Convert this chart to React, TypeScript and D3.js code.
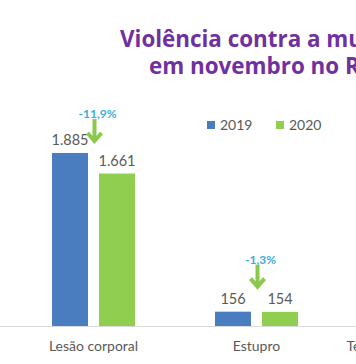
import React from "react";
import * as d3 from "d3";

const categories = ["Lesão corporal", "Estupro", "Tentativa de feminicídio"];
const years = ["2019", "2020"];
const values2019 = [1885, 156];
const values2020 = [1661, 154];
const titleLines = ["Violência contra a mulher", "em novembro no RJ"];

const W = 356;
const H = 364;
const colors = ["#4a7dbf", "#8fce4f"];
const textGray = "#595959";
const pctColor = "#3aaedc";
const arrowColor = "#8cc84b";
const font = "Lato, 'Open Sans', sans-serif";
const titleFont = "'Open Sans', Lato, sans-serif";

export default function App() {
  const baseline = 326;
  const x0 = d3
    .scaleBand<string>()
    .domain(categories)
    .range([12, 12 + 163 * 3])
    .paddingInner(80 / 163)
    .paddingOuter(40 / 163);
  const x1 = d3
    .scaleBand<string>()
    .domain(years)
    .range([0, x0.bandwidth()])
    .paddingInner(11 / 47);
  const y = d3.scaleLinear().domain([0, 2000]).range([baseline, baseline - 183.6]);

  const series = [values2019, values2020];
  const fmt = (v: number) => d3.format(",")(v).replace(/,/g, ".");
  const pctFmt = (v: number) => d3.format(".1%")(v).replace(".", ",").replace("−", "-");
  const tipGap = [11, 24];

  return (
    <svg
      width={W}
      height={H}
      style={{ position: "absolute", left: 0, top: 0, background: "#fff" }}
      fontFamily={font}
    >
      <rect width={W} height={H} fill="#fff" />
      <text x={120} y={47} fill="#7030a0" fontWeight={700} fontSize={22.4} fontFamily={titleFont}>
        {titleLines[0]}
      </text>
      <text x={149} y={74} fill="#7030a0" fontWeight={700} fontSize={22.4} fontFamily={titleFont}>
        {titleLines[1]}
      </text>

      {years.map((yr, i) => (
        <g key={yr} transform={`translate(${207 + i * 69},0)`}>
          <rect x={0} y={121} width={8} height={8} fill={colors[i]} />
          <text x={13} y={130} fontSize={14} fill={textGray}>
            {yr}
          </text>
        </g>
      ))}

      <line x1={0} x2={W} y1={baseline + 0.5} y2={baseline + 0.5} stroke="#d9d9d9" strokeWidth={1} />

      {categories.map((cat, ci) => {
        const gx = x0(cat)!;
        const cx = gx + x0.bandwidth() / 2;
        const hasData = ci < values2019.length;
        return (
          <g key={cat}>
            <text x={cx} y={350.5} textAnchor="middle" fontSize={14} fill={textGray}>
              {cat}
            </text>
            {hasData &&
              years.map((yr, si) => {
                const v = series[si][ci];
                const bx = gx + x1(yr)!;
                return (
                  <g key={yr}>
                    <rect x={bx} y={y(v)} width={x1.bandwidth()} height={baseline - y(v)} fill={colors[si]} />
                    <text
                      x={bx + x1.bandwidth() / 2}
                      y={y(v) - 7.5}
                      textAnchor="middle"
                      fontSize={14.5}
                      fill={textGray}
                    >
                      {fmt(v)}
                    </text>
                  </g>
                );
              })}
            {hasData &&
              (() => {
                const a = values2019[ci];
                const b = values2020[ci];
                const tip = y(Math.max(a, b)) - tipGap[ci];
                const ax = cx + 1;
                return (
                  <g>
                    <path
                      d={`M${ax},${tip - 23}L${ax},${tip - 2}`}
                      stroke={arrowColor}
                      strokeWidth={4}
                      fill="none"
                    />
                    <path
                      d={`M${ax - 7},${tip - 9}L${ax},${tip - 1}L${ax + 7},${tip - 9}`}
                      stroke={arrowColor}
                      strokeWidth={4}
                      fill="none"
                      strokeLinejoin="miter"
                    />
                    <text
                      x={cx + 4}
                      y={tip - 24}
                      textAnchor="middle"
                      fontSize={12}
                      fontWeight={700}
                      fill={pctColor}
                    >
                      {pctFmt((b - a) / a)}
                    </text>
                  </g>
                );
              })()}
          </g>
        );
      })}
    </svg>
  );
}
